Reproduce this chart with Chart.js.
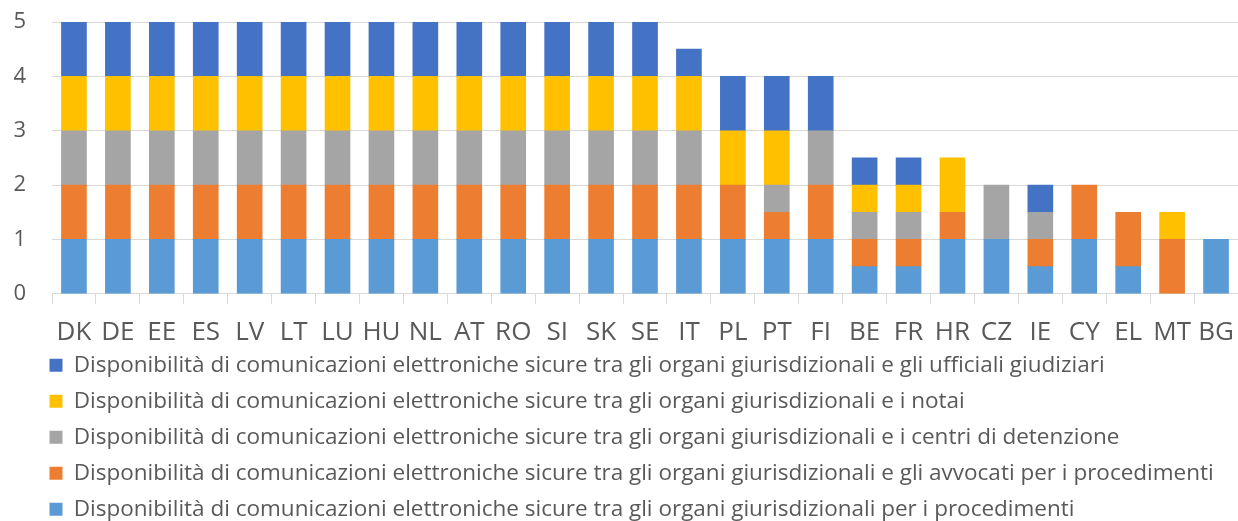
<!DOCTYPE html>
<html>
<head>
<meta charset="utf-8">
<script src="https://cdn.jsdelivr.net/npm/chart.js@4"></script>
<style>
  html, body { margin: 0; padding: 0; background: #fff; }
  #wrap { width: 1238px; height: 521px; }
</style>
</head>
<body>
<div id="wrap"><canvas id="myChart"></canvas></div>
<script>
const paesi = ['DK','DE','EE','ES','LV','LT','LU','HU','NL','AT','RO','SI','SK','SE','IT','PL','PT','FI','BE','FR','HR','CZ','IE','CY','EL','MT','BG'];

// valori per serie, dal basso verso l'alto
const procedimenti = [1,1,1,1,1,1,1,1,1,1,1,1,1,1,1,1,1,1,0.5,0.5,1,1,0.5,1,0.5,0,1];
const avvocati     = [1,1,1,1,1,1,1,1,1,1,1,1,1,1,1,1,0.5,1,0.5,0.5,0.5,0,0.5,1,1,1,0];
const detenzione   = [1,1,1,1,1,1,1,1,1,1,1,1,1,1,1,0,0.5,1,0.5,0.5,0,1,0.5,0,0,0,0];
const notai        = [1,1,1,1,1,1,1,1,1,1,1,1,1,1,1,1,1,0,0.5,0.5,1,0,0,0,0,0.5,0];
const ufficiali    = [1,1,1,1,1,1,1,1,1,1,1,1,1,1,0.5,1,1,1,0.5,0.5,0,0,0.5,0,0,0,0];

const yTicks = [0,1,2,3,4,5];

const testo = 'Disponibilità di comunicazioni elettroniche sicure tra gli organi giurisdizionali ';

// gli zeri non vanno disegnati (evita righe sottili in cima alle colonne)
const senzaZeri = arr => arr.map(v => v === 0 ? null : v);

// legenda: posizione fissata a mano, indipendente dall'area del grafico
const spostaLegenda = {
  id: 'spostaLegenda',
  afterLayout(chart) {
    const l = chart.legend;
    if (!l) return;
    l.left += 36;
    l.top = 340.5;
  }
};

const ctx = document.querySelector('#myChart').getContext('2d');
Chart.defaults.font.family = '"Open Sans", sans-serif';
Chart.defaults.color = '#595959';

const myChart = new Chart(ctx, {
  type: 'bar',
  data: {
    labels: paesi,
    datasets: [
      { label: testo + 'per i procedimenti', data: senzaZeri(procedimenti), backgroundColor: '#5b9bd5' },
      { label: testo + 'e gli avvocati per i procedimenti', data: senzaZeri(avvocati), backgroundColor: '#ed7d31' },
      { label: testo + 'e i centri di detenzione', data: senzaZeri(detenzione), backgroundColor: '#a5a5a5' },
      { label: testo + 'e i notai', data: senzaZeri(notai), backgroundColor: '#ffc000' },
      { label: testo + 'e gli ufficiali giudiziari', data: senzaZeri(ufficiali), backgroundColor: '#4472c4' }
    ]
  },
  options: {
    responsive: true,
    maintainAspectRatio: false,
    animation: false,
    layout: { padding: { left: 0, right: 0, top: 22, bottom: -30 } },
    datasets: { bar: { barThickness: 25 } },
    scales: {
      x: {
        stacked: true,
        afterFit: axis => { axis.paddingLeft = 0; axis.paddingRight = 0; },
        grid: { drawOnChartArea: false, color: '#d9d9d9', tickLength: 10, offset: true },
        border: { color: '#d9d9d9' },
        ticks: { font: { size: 26 }, color: '#595959', padding: 13, maxRotation: 0, autoSkip: false }
      },
      y: {
        stacked: true,
        min: 0,
        max: 5,
        afterBuildTicks: axis => { axis.ticks = yTicks.map(v => ({ value: v })); },
        afterFit: axis => { axis.width = 52; axis.paddingTop = 13; axis.paddingBottom = 13; },
        grid: { color: '#d9d9d9', drawTicks: false },
        border: { display: false },
        ticks: { font: { size: 22 }, color: '#595959', padding: 26 }
      }
    },
    plugins: {
      legend: {
        position: 'bottom',
        align: 'start',
        reverse: true,
        labels: { boxWidth: 13, boxHeight: 13, padding: 13.5, font: { size: 22.5 }, color: '#595959' }
      },
      tooltip: { enabled: false }
    }
  },
  plugins: [spostaLegenda]
});
</script>
</body>
</html>
